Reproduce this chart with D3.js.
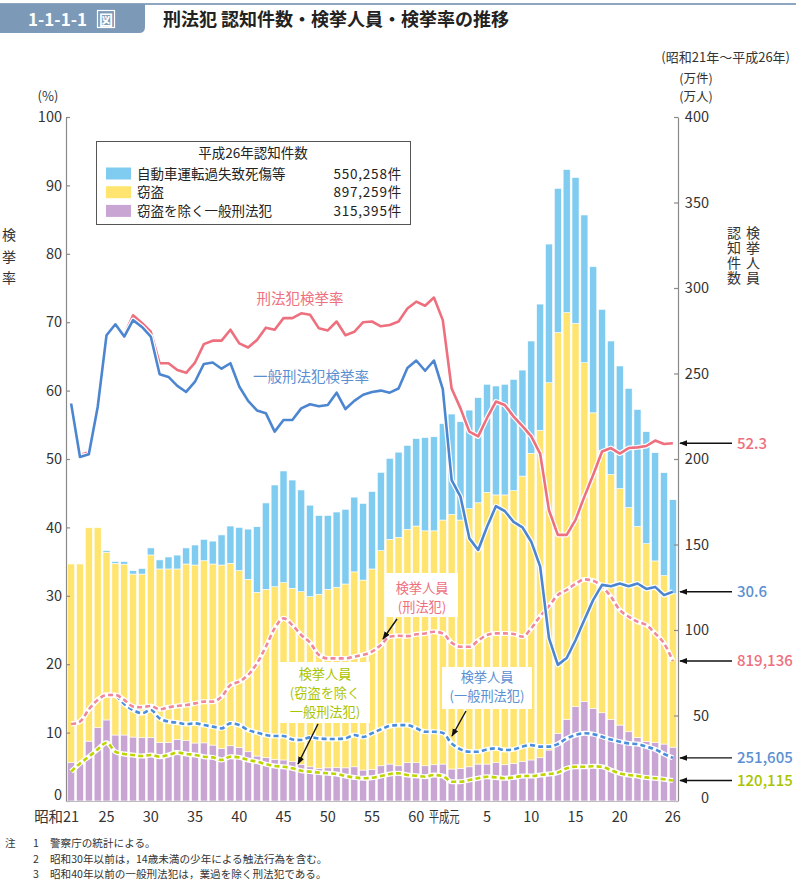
<!DOCTYPE html>
<html><head><meta charset="utf-8">
<script src="https://cdn.jsdelivr.net/npm/d3@7"></script>
<style>
body{margin:0;background:#fff;}
text{font-family:"Noto Sans CJK JP","Noto Sans",sans-serif;}
</style>
</head><body>
<svg id="c" width="796" height="881"></svg>
<script>
// ---------------- DATA ----------------
const years = d3.range(1946, 2015); // 昭和21 … 平成26
// 認知件数 (万件)
const nonTheft = [22.6,22.0,35.0,42.9,47.4,38.6,38.6,37.4,37.0,37.0,
 34.3,34.3,36.0,35.3,33.9,34.0,32.7,30.8,32.3,31.4,
 28.8,26.3,25.5,24.4,24.0,23.0,21.4,20.0,19.1,19.4,
 19.6,19.4,20.0,18.1,18.5,20.6,21.6,20.6,22.4,22.4,
 20.6,21.2,21.6,18.7,19.1,20.0,21.6,21.6,22.4,21.2,
 22.0,23.0,24.0,25.3,29.8,39.6,47.8,55.2,58.1,54.2,
 51.6,47.8,44.4,40.5,37.2,34.7,34.1,33.3,31.5];
const theft = [116.0,116.6,124.8,116.9,98.1,100.4,99.9,95.3,95.7,106.9,
 101.4,101.4,99.7,103.3,104.1,106.5,105.9,107.2,106.7,103.3,
 100.8,95.7,98.3,100.9,103.7,101.4,101.0,99.5,101.8,104.4,
 105.4,107.5,114.0,111.1,117.2,125.8,131.4,133.6,136.5,138.4,
 137.4,136.8,142.7,148.9,145.2,151.0,152.8,158.9,156.6,157.8,
 159.5,167.0,179.3,191.5,214.8,234.3,237.8,224.1,198.2,172.8,
 153.5,143.2,138.3,131.1,123.4,115.8,106.3,98.5,89.7];
const traffic = [0,0,0,0,0.9,1.0,1.5,2.0,3.3,4.1,
 5.3,7.0,8.1,9.4,11.7,12.5,13.4,17.6,21.8,25.3,
 29.4,38.4,50.5,59.5,65.3,63.3,59.5,53.5,46.1,43.2,
 44.0,43.7,43.7,44.8,45.3,45.8,47.4,49.8,49.1,51.2,
 54.5,55.0,56.4,58.7,57.5,57.6,61.5,63.2,63.7,64.7,
 65.1,62.0,65.7,73.8,81.1,84.4,83.7,85.3,86.4,85.5,
 82.4,78.0,71.7,69.7,68.4,65.5,63.3,60.2,55.0];
// 検挙率 (%)
const rateAll = [58.1,50.6,51.0,57.8,68.3,69.8,68.1,71.0,69.9,68.6,
 64.0,64.0,63.0,62.6,64.1,66.8,67.3,67.3,68.9,66.9,
 66.3,67.4,69.2,68.9,70.6,70.6,71.3,71.1,69.1,68.8,
 70.1,68.1,68.6,70.0,70.1,69.4,69.6,70.1,72.0,73.0,
 72.4,73.6,70.3,60.3,57.4,54.0,53.3,56.0,58.4,57.9,
 56.2,54.8,53.3,50.8,42.5,38.9,38.9,41.1,44.5,47.7,
 51.1,51.6,50.8,51.6,51.7,51.9,52.7,52.2,52.3];
const rateGeneral = [58.1,50.3,50.7,57.6,68.1,69.7,67.9,70.3,69.3,67.9,
 62.4,62.0,60.7,59.8,61.3,63.9,64.1,63.2,64.0,60.6,
 58.5,57.1,56.7,54.0,55.7,55.7,57.4,58.0,57.7,57.9,
 59.7,57.3,58.5,59.4,59.8,60.0,59.7,60.3,63.3,64.4,
 62.9,64.4,60.2,46.9,44.5,38.4,36.7,40.1,43.1,42.4,
 40.8,40.0,37.9,34.3,23.8,19.9,20.9,23.5,26.5,29.4,
 31.6,31.4,31.8,31.4,31.8,31.0,31.3,30.1,30.6];
// 検挙人員 (万人)
const arrestAll = [45.0,46.4,53.6,59.1,62.0,62.0,59.1,55.2,54.8,55.6,
 53.6,54.8,55.6,56.1,57.1,58.1,58.1,61.0,67.8,69.8,
 73.7,80.5,90.2,101.0,106.8,102.9,97.1,92.6,85.4,83.4,
 83.4,83.4,84.4,85.5,87.3,91.2,96.1,96.6,96.4,97.5,
 98.0,99.0,98.0,92.6,90.2,90.2,93.8,97.1,98.0,98.0,
 97.7,96.1,101.0,108.0,114.0,120.5,123.4,127.0,129.6,128.8,
 125.3,119.5,111.7,107.8,104.9,102.9,98.0,92.2,81.9];
const arrestGeneral = [45.0,46.4,53.6,59.1,62.0,61.5,56.7,53.2,51.3,53.2,
 48.3,46.4,45.8,45.0,45.4,44.4,43.5,42.5,45.4,44.4,
 41.5,40.0,38.6,38.0,38.0,36.0,35.7,37.2,36.6,36.3,
 36.3,36.6,38.6,37.4,39.6,41.9,43.9,44.4,44.4,42.5,
 40.5,40.5,39.8,33.7,30.2,28.8,28.8,30.2,30.8,29.8,
 30.2,31.8,32.7,31.8,31.8,33.3,36.6,38.6,39.6,39.1,
 37.6,36.0,34.7,33.7,33.3,31.8,30.2,27.5,25.2];
const arrestNonTheft = [17.2,22.0,25.9,30.2,34.1,28.8,27.5,26.9,26.3,26.9,
 25.9,26.9,28.3,27.5,26.9,25.9,25.5,24.0,25.9,25.5,
 24.0,23.0,21.6,20.5,20.0,19.1,17.7,17.2,16.6,16.2,
 15.8,14.6,13.8,13.3,13.6,14.6,15.8,16.2,15.2,14.8,
 14.2,15.2,14.6,11.3,11.3,12.3,13.3,14.2,13.8,13.3,
 13.8,14.6,14.6,15.2,15.8,16.6,19.1,20.0,20.0,20.3,
 20.0,18.1,16.2,15.2,14.6,13.8,13.3,12.7,12.0];

const leftTicks = [0,10,20,30,40,50,60,70,80,90,100];
const rightTicks = [0,50,100,150,200,250,300,350,400];
const xTickYears = [1946,1950,1955,1960,1965,1970,1975,1980,1985,1989,1993,1998,2003,2008,2014];
const xTickLabels = ["21","25","30","35","40","45","50","55","60","平成元","5","10","15","20","26"];
const legendTitle = "平成26年認知件数";
const legendNames = ["自動車運転過失致死傷等","窃盗","窃盗を除く一般刑法犯"];
const legendValues = ["550,258件","897,259件","315,395件"];
const endLabels = ["52.3","30.6","819,136","251,605","120,115"];
const notes = ["警察庁の統計による。","昭和30年以前は，14歳未満の少年による触法行為を含む。","昭和40年以前の一般刑法犯は，業過を除く刑法犯である。"];

// ---------------- COLOURS ----------------
const C = {
  traffic:"#80ccf0", theft:"#ffe570", nonTheft:"#c8a5d3",
  red:"#ee6f7d", blue:"#4d86d0",
  pinkDash:"#f0889a", blueDash:"#4a8fdb", greenDash:"#bfd400",
  pinkText:"#ee6f7d", blueText:"#5a8fd2", greenText:"#a9c400",
  axis:"#8a8a8a", text:"#333"
};

const svg = d3.select("#c");
const L = 66, R = 678, T = 117, B = 801;

const x = d3.scaleBand().domain(years).range([L, R]).paddingInner(0.2).paddingOuter(0.18);
const xc = y => x(y) + x.bandwidth()/2;
const yL = d3.scaleLinear().domain([0,100]).range([B,T]);
const yR = d3.scaleLinear().domain([0,400]).range([B,T]);

const defs = svg.append("defs");
defs.append("marker").attr("id","ah").attr("viewBox","0 0 10 10")
  .attr("refX",9).attr("refY",5).attr("markerWidth",8).attr("markerHeight",8)
  .attr("markerUnits","userSpaceOnUse").attr("orient","auto")
  .append("path").attr("d","M0,1.2 L10,5 L0,8.8 z").attr("fill","#111");

// ---------------- HEADER ----------------
svg.append("rect").attr("x",0).attr("y",3).attr("width",796).attr("height",2).attr("fill","#8ea6c0");
svg.append("path").attr("d","M0,4 H145 V27 Q145,33 139,33 H0 Z").attr("fill","#7d99b8");
svg.append("text").attr("x",28).attr("y",26).attr("fill","#fff").attr("font-size",17).attr("font-weight",700).text("1-1-1-1");
svg.append("rect").attr("x",97.5).attr("y",10.5).attr("width",17).attr("height",17).attr("fill","none").attr("stroke","#fff").attr("stroke-width",1.2);
svg.append("text").attr("x",106).attr("y",25).attr("text-anchor","middle").attr("fill","#fff").attr("font-size",14).attr("font-weight",700).text("図");
svg.append("text").attr("x",163).attr("y",26).attr("fill","#222").attr("font-size",18).attr("font-weight",700).text("刑法犯 認知件数・検挙人員・検挙率の推移");
svg.append("text").attr("x",790).attr("y",62).attr("text-anchor","end").attr("fill",C.text).attr("font-size",13).text("(昭和21年～平成26年)");

// ---------------- BARS ----------------
const rows = years.map((yr,i)=>({year:yr, nonTheft:nonTheft[i], theft:theft[i], traffic:traffic[i]}));
const keys = ["nonTheft","theft","traffic"];
const stacked = d3.stack().keys(keys)(rows);
svg.append("g").selectAll("g").data(stacked).join("g")
  .attr("fill", d => C[d.key])
  .selectAll("rect").data(d => d).join("rect")
  .attr("x", d => x(d.data.year))
  .attr("width", x.bandwidth())
  .attr("y", d => yR(d[1]))
  .attr("height", d => Math.max(0, yR(d[0]) - yR(d[1])))
  .attr("stroke","#fff").attr("stroke-width",0.6);

// ---------------- AXES ----------------
const gl = svg.append("g").attr("transform",`translate(${L},0)`)
  .call(d3.axisLeft(yL).tickValues(leftTicks).tickSizeInner(-4).tickSizeOuter(0).tickPadding(4));
const gr = svg.append("g").attr("transform",`translate(${R},0)`)
  .call(d3.axisRight(yR).tickValues(rightTicks).tickSizeInner(-4).tickSizeOuter(0).tickPadding(4));
gr.selectAll(".tick text").attr("x",31).attr("text-anchor","end");
[gl,gr].forEach(g=>{
  g.select(".domain").attr("stroke",C.axis).attr("stroke-width",1.2);
  g.selectAll(".tick line").attr("stroke",C.axis).attr("stroke-width",1.2);
  g.selectAll(".tick text").attr("font-size",14.5).attr("fill",C.text)
    .attr("font-family",'"Noto Sans CJK JP","Noto Sans",sans-serif');
});
// lift the bottom "0" labels a little above the year labels
gl.selectAll(".tick text").filter(d=>d===0).attr("y",-6);
gr.selectAll(".tick text").filter(d=>d===0).attr("y",-3);
svg.append("line").attr("x1",L).attr("x2",R).attr("y1",B+0.5).attr("y2",B+0.5).attr("stroke","#bbb");

// x labels
const gx = svg.append("g");
xTickYears.forEach((yr,k)=>{
  const lab = xTickLabels[k];
  const t = gx.append("text").attr("y",822).attr("font-size",14.5).attr("fill",C.text);
  if (lab === "平成元") {
    t.attr("x", xc(yr)+8).attr("text-anchor","end").attr("textLength",31).attr("lengthAdjust","spacingAndGlyphs").text(lab);
  } else {
    t.attr("x", xc(yr)).attr("text-anchor","middle").text(lab);
  }
});
gx.append("text").attr("x",xc(1946)-8).attr("y",822).attr("text-anchor","end").attr("font-size",14.5).attr("fill",C.text).text("昭和");

// axis titles
svg.append("text").attr("x",48).attr("y",100.5).attr("text-anchor","middle").attr("font-size",13).attr("fill",C.text).text("(%)");
svg.append("text").attr("x",696).attr("y",83).attr("text-anchor","middle").attr("font-size",12.5).attr("fill",C.text).text("(万件)");
svg.append("text").attr("x",696).attr("y",101).attr("text-anchor","middle").attr("font-size",12.5).attr("fill",C.text).text("(万人)");
function vtext(x0, y0, s, spacing){
  svg.append("text").attr("x",x0).attr("y",y0).attr("writing-mode","vertical-rl")
    .attr("font-size",14).attr("letter-spacing",spacing).attr("fill",C.text).text(s);
}
vtext(9, 228, "検挙率", 7.5);
vtext(734, 226, "認知件数", 1);
vtext(753, 226, "検挙人員", 1);

// ---------------- LINES ----------------
function drawLine(vals, scale, color, dashed){
  const data = years.map((yr,i)=>[xc(yr), scale(vals[i])]);
  const gen = d3.line().curve(dashed ? d3.curveMonotoneX : d3.curveLinear);
  svg.append("path").attr("d",gen(data)).attr("fill","none").attr("stroke","#fff")
    .attr("stroke-width", 5).attr("stroke-linejoin","round");
  svg.append("path").attr("d",gen(data)).attr("fill","none").attr("stroke",color)
    .attr("stroke-width", 2.6).attr("stroke-linejoin","round")
    .attr("stroke-dasharray", dashed ? "5,3.2" : null);
}
drawLine(arrestNonTheft, yR, C.greenDash, true);
drawLine(arrestGeneral, yR, C.blueDash, true);
drawLine(arrestAll, yR, C.pinkDash, true);
drawLine(rateAll, yL, C.red, false);
drawLine(rateGeneral, yL, C.blue, false);

svg.append("text").attr("x",300).attr("y",304).attr("text-anchor","middle").attr("font-size",14.5).attr("fill",C.pinkText).text("刑法犯検挙率");
svg.append("text").attr("x",253).attr("y",382).attr("font-size",14.5).attr("fill",C.blueText).text("一般刑法犯検挙率");

// ---------------- ANNOTATION BOXES ----------------
function note(x0,y0,w,h,lines,color,cx,y1,dy){
  svg.append("rect").attr("x",x0).attr("y",y0).attr("width",w).attr("height",h).attr("fill","#fff");
  const t = svg.append("text").attr("text-anchor","middle").attr("font-size",13.2).attr("fill",color);
  lines.forEach((s,i)=>t.append("tspan").attr("x",cx).attr("y",y1+i*dy).text(s));
}
function arrow(x1,y1,x2,y2){
  svg.append("line").attr("x1",x1).attr("y1",y1).attr("x2",x2).attr("y2",y2)
    .attr("stroke","#111").attr("stroke-width",1.4).attr("marker-end","url(#ah)");
}
note(385,573,73,44,["検挙人員","(刑法犯)"],C.pinkText,422,592.5,19.2);
arrow(397,619,383,639);
note(280,662,90,61,["検挙人員","(窃盗を除く","一般刑法犯)"],C.greenText,325,679,19.2);
arrow(318,724,298,764);
note(442,667,90,42,["検挙人員","(一般刑法犯)"],C.blueText,487,681.5,19.2);
arrow(466,711,452,736);

// ---------------- END LABELS ----------------
const last = years.length-1;
const endSpecs = [
  {v: yL(rateAll[last]), c: C.pinkText},
  {v: yL(rateGeneral[last]), c: C.blueText},
  {v: yR(arrestAll[last]), c: C.pinkText},
  {v: yR(arrestGeneral[last]), c: C.blueText},
  {v: yR(arrestNonTheft[last]), c: C.greenText}
];
endSpecs.forEach((s,i)=>{
  arrow(732, s.v, 680, s.v);
  svg.append("text").attr("x",737).attr("y",s.v+5.5).attr("font-size",15).attr("font-weight",500)
    .attr("fill",s.c).text(endLabels[i]);
});

// ---------------- LEGEND ----------------
const lg = svg.append("g");
lg.append("rect").attr("x",96.5).attr("y",141.5).attr("width",314).attr("height",83)
  .attr("fill","#fff").attr("stroke","#555").attr("stroke-width",1);
const legCols = [C.traffic, C.theft, C.nonTheft];
const lt = lg.append("text").attr("font-size",13.5).attr("fill","#222");
lt.append("tspan").attr("x",253).attr("y",158.3).attr("text-anchor","middle").text(legendTitle);
const lv = lg.append("text").attr("font-size",13.5).attr("fill","#222").attr("text-anchor","end").attr("letter-spacing",0.8);
legendNames.forEach((n,i)=>{
  const cy = 173.5 + i*18.7;
  lg.append("rect").attr("x",106).attr("y",cy-6).attr("width",25).attr("height",12).attr("fill",legCols[i]);
  lt.append("tspan").attr("x",137).attr("y",cy+5).attr("text-anchor","start").text(n);
  lv.append("tspan").attr("x",402).attr("y",cy+5).text(legendValues[i]);
});

// ---------------- NOTES ----------------
const nt = svg.append("text").attr("font-size",10.6).attr("fill","#333");
nt.append("tspan").attr("x",5).attr("y",847).text("注");
notes.forEach((s,i)=>{
  nt.append("tspan").attr("x",33).attr("y",847+i*15.5).text(String(i+1));
  nt.append("tspan").attr("x",50).attr("y",847+i*15.5).text(s);
});
</script>
</body></html>
